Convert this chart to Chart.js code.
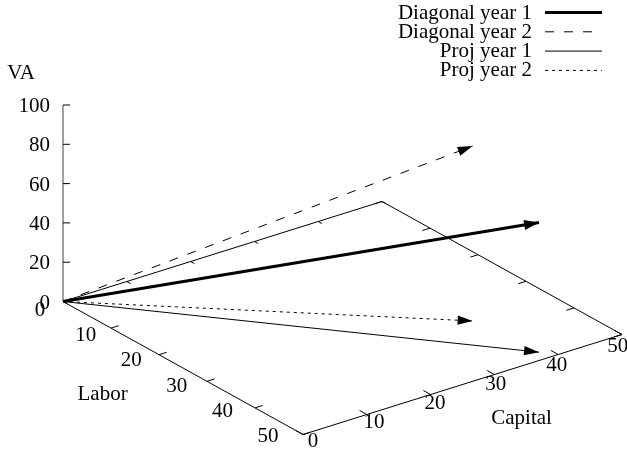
<!DOCTYPE html>
<html>
<head>
<meta charset="utf-8">
<script src="https://cdn.jsdelivr.net/npm/chart.js@4"></script>
<style>
  body { margin: 0; background: #fff; }
  #wrap { width: 627px; height: 450px; }
</style>
</head>
<body>
<div id="wrap"><canvas id="vaChart"></canvas></div>
<script>
// end points of the two value-added vectors (labor, capital, VA)
const seriesLabels = ['Diagonal year 1', 'Diagonal year 2', 'Proj year 1', 'Proj year 2'];
const laborEnd = [48, 35.5];
const capitalEnd = [38.5, 37.5];
const vaEnd = [66, 89];

const laborTicks = [0, 10, 20, 30, 40, 50];
const capitalTicks = [0, 10, 20, 30, 40, 50];
const vaTicks = [0, 20, 40, 60, 80, 100];
const laborMax = 50;
const capitalMax = 50;
const vaMax = 100;

// fixed 3d view: screen step for one unit along each axis
const view = { L: [4.8, -2.66], C: [6.38, 2.0], V: [0, 1.965] };
const proj = (l, c, v) => ({
  x: l * view.L[0] + c * view.C[0] + v * view.V[0],
  y: l * view.L[1] + c * view.C[1] + v * view.V[1],
});

const FONT = '21px "Liberation Serif", "DejaVu Serif", serif';
const origin = proj(0, 0, 0);

const datasets = [
  {
    label: seriesLabels[0],
    data: [origin, proj(laborEnd[0], capitalEnd[0], vaEnd[0])],
    borderColor: '#000', borderWidth: 3, arrow: true,
  },
  {
    label: seriesLabels[1],
    data: [origin, proj(laborEnd[1], capitalEnd[1], vaEnd[1])],
    borderColor: '#000', borderWidth: 1, borderDash: [9, 10], arrow: true,
  },
  {
    label: seriesLabels[2],
    data: [origin, proj(laborEnd[0], capitalEnd[0], 0)],
    borderColor: '#000', borderWidth: 1, arrow: true,
  },
  {
    label: seriesLabels[3],
    data: [origin, proj(laborEnd[1], capitalEnd[1], 0)],
    borderColor: '#000', borderWidth: 1, borderDash: [3, 4], arrow: true,
  },
  {
    label: 'base',
    data: [origin, proj(laborMax, 0, 0), proj(laborMax, capitalMax, 0), proj(0, capitalMax, 0), origin],
    borderColor: '#000', borderWidth: 1, noLegend: true,
  },
  {
    label: 'z axis',
    data: [origin, proj(0, 0, vaMax)],
    borderColor: '#888', borderWidth: 1.6, noLegend: true,
  },
];

const px = (chart, p) => ({
  x: chart.scales.x.getPixelForValue(p.x),
  y: chart.scales.y.getPixelForValue(p.y),
});

const segment = (ctx, a, b) => {
  ctx.beginPath();
  ctx.moveTo(a.x, a.y);
  ctx.lineTo(b.x, b.y);
  ctx.stroke();
};

// ticks, tick labels and axis titles of the 3d box
const axesPlugin = {
  id: 'axes3d',
  afterDatasetsDraw(chart) {
    const ctx = chart.ctx;
    ctx.save();
    ctx.strokeStyle = '#000';
    ctx.lineWidth = 1;
    laborTicks.forEach((l) => {
      segment(ctx, px(chart, proj(l, 0, 0)), px(chart, proj(l, 1.2, 0)));
      segment(ctx, px(chart, proj(l, capitalMax, 0)), px(chart, proj(l, capitalMax - 1.2, 0)));
    });
    capitalTicks.forEach((c) => {
      segment(ctx, px(chart, proj(laborMax, c, 0)), px(chart, proj(laborMax - 1.5, c, 0)));
      segment(ctx, px(chart, proj(0, c, 0)), px(chart, proj(0.8, c, 0)));
    });
    vaTicks.forEach((v) => {
      const a = px(chart, proj(0, 0, v));
      segment(ctx, a, { x: a.x + 7, y: a.y });
    });

    ctx.fillStyle = '#000';
    ctx.font = FONT;
    ctx.textBaseline = 'alphabetic';
    ctx.textAlign = 'right';
    vaTicks.forEach((v) => {
      const a = px(chart, proj(0, 0, v));
      ctx.fillText(String(v), a.x - 13, a.y + 7);
    });
    // tick text sits slightly inside the tick positions, as in the original
    ctx.textAlign = 'center';
    laborTicks.forEach((l) => {
      const a = px(chart, proj(0.95 * l, -3.6, 0));
      ctx.fillText(String(l), a.x, a.y + 7);
    });
    capitalTicks.forEach((c) => {
      const a = px(chart, proj(52.1, 0.955 * c, 0));
      ctx.fillText(String(c), a.x, a.y + 7);
    });

    const va = px(chart, proj(0, 0, 116.6));
    ctx.fillText('VA', va.x - 42, va.y + 7);
    const lab = px(chart, proj(25, -12.6, 0));
    ctx.fillText('Labor', lab.x, lab.y + 7);
    const cap = px(chart, proj(62.3, 25, 0));
    ctx.fillText('Capital', cap.x, cap.y + 7);
    ctx.restore();
  },
};

// filled arrow heads at the end of each vector
const arrowPlugin = {
  id: 'arrowHeads',
  afterDatasetsDraw(chart) {
    const ctx = chart.ctx;
    chart.data.datasets.forEach((ds, i) => {
      if (!ds.arrow) return;
      const pts = chart.getDatasetMeta(i).data;
      const a = pts[pts.length - 2];
      const b = pts[pts.length - 1];
      const ang = Math.atan2(b.y - a.y, b.x - a.x);
      const len = 15;
      const half = ds.borderWidth > 2 ? 5 : 4.6;
      const bx = b.x - len * Math.cos(ang);
      const by = b.y - len * Math.sin(ang);
      ctx.save();
      ctx.fillStyle = ds.borderColor;
      ctx.beginPath();
      ctx.moveTo(b.x, b.y);
      ctx.lineTo(bx + half * Math.sin(ang), by - half * Math.cos(ang));
      ctx.lineTo(bx - half * Math.sin(ang), by + half * Math.cos(ang));
      ctx.closePath();
      ctx.fill();
      ctx.restore();
    });
  },
};

// gnuplot style key: text right aligned, line sample on the right
const keyPlugin = {
  id: 'gnuKey',
  afterDraw(chart) {
    const ctx = chart.ctx;
    ctx.save();
    ctx.font = FONT;
    ctx.textAlign = 'right';
    ctx.textBaseline = 'alphabetic';
    ctx.fillStyle = '#000';
    let row = 0;
    chart.data.datasets.forEach((ds) => {
      if (ds.noLegend) return;
      const base = 18.5 + row * 19.3;
      ctx.fillText(ds.label, 532, base);
      ctx.strokeStyle = ds.borderColor;
      ctx.lineWidth = ds.borderWidth;
      ctx.setLineDash(ds.borderDash || []);
      segment(ctx, { x: 545, y: base - 6 }, { x: 602, y: base - 6 });
      row += 1;
    });
    ctx.restore();
  },
};

new Chart(document.getElementById('vaChart'), {
  type: 'scatter',
  data: { datasets },
  options: {
    responsive: true,
    maintainAspectRatio: false,
    animation: false,
    layout: { padding: 0 },
    showLine: true,
    elements: {
      point: { radius: 0, hoverRadius: 0 },
      line: { tension: 0, fill: false, borderCapStyle: 'butt' },
    },
    plugins: {
      legend: { display: false },
      tooltip: { enabled: false },
    },
    scales: {
      x: { type: 'linear', min: -63, max: 564, display: false },
      y: { type: 'linear', min: -148.5, max: 301.5, display: false },
    },
  },
  plugins: [axesPlugin, arrowPlugin, keyPlugin],
});
</script>
</body>
</html>
